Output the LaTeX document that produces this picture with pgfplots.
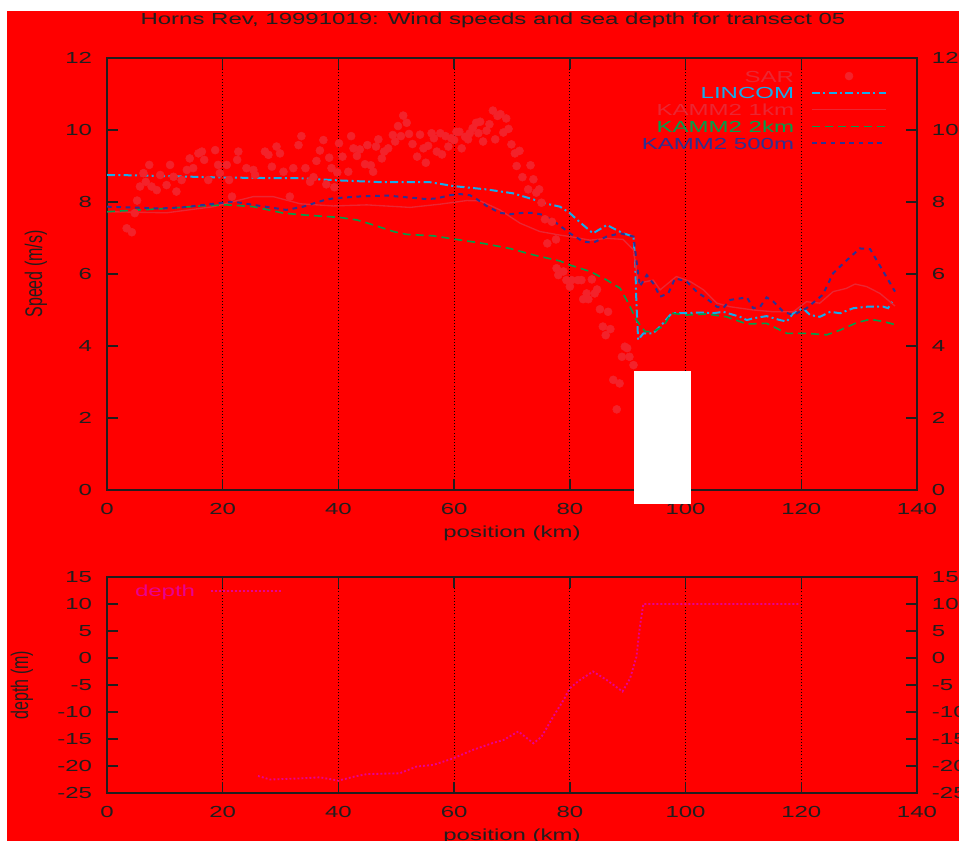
\documentclass[border=0pt]{standalone}
\usepackage{graphicx}
\usepackage{pgfplots}
\pgfplotsset{compat=1.18}
\usepackage{fontspec}
\setmainfont{Liberation Sans}[FakeStretch=1.5]
\newfontfamily\plainsans{Liberation Sans}
\definecolor{bgred}{RGB}{255,0,0}
\definecolor{axdark}{RGB}{34,30,30}
\definecolor{sarc}{RGB}{234,38,50}
\definecolor{dotc}{RGB}{243,34,42}
\definecolor{linc}{RGB}{20,172,236}
\definecolor{k2c}{RGB}{0,160,75}
\definecolor{k5c}{RGB}{46,49,146}
\definecolor{depc}{RGB}{232,0,145}

\pgfplotstableread{
x y
3.4 7.27
4.3 7.16
4.8 7.69
5.2 8.04
5.7 8.43
6.3 8.80
6.7 8.56
7.3 9.03
7.7 8.43
8.6 8.33
9.2 8.75
10.3 8.47
10.9 9.03
11.5 8.70
12.0 8.29
12.9 8.61
13.8 8.89
14.3 9.21
14.9 8.94
15.8 9.35
16.4 9.40
16.8 9.17
17.5 8.61
18.7 9.44
19.2 9.03
19.5 8.80
20.7 9.03
21.1 8.61
21.6 8.15
22.5 9.17
22.7 9.40
24.1 8.94
25.3 8.89
25.6 8.75
27.3 9.40
27.9 9.31
28.5 8.98
29.3 9.54
29.9 9.35
30.5 8.84
31.6 8.15
32.2 8.94
33.1 9.58
33.6 9.83
34.3 8.94
35.1 8.56
35.7 8.69
36.2 9.14
36.8 9.43
37.4 9.72
37.9 8.49
38.4 9.23
38.8 8.94
39.3 8.41
39.8 8.82
40.1 9.63
40.7 9.26
41.7 8.84
42.2 9.83
42.6 9.49
43.2 9.28
43.7 9.46
44.6 9.05
45.0 9.58
45.6 9.02
46.0 8.84
46.5 9.54
46.9 9.74
47.5 9.21
47.9 9.40
48.6 9.49
49.4 9.86
49.8 9.68
50.3 10.11
50.8 9.83
51.2 10.40
51.8 10.20
52.2 9.89
52.8 9.61
53.6 9.26
54.1 9.87
54.7 9.49
55.1 9.09
55.5 9.56
56.1 9.91
56.5 9.77
57.0 9.40
57.6 9.91
57.9 9.32
58.5 9.83
59.0 9.54
59.5 9.77
60.0 9.72
60.4 9.95
60.9 9.95
61.3 9.49
61.9 9.81
62.4 9.74
62.7 9.91
63.2 10.05
63.8 10.20
64.2 9.91
64.5 10.23
65.0 9.68
65.6 9.98
66.1 10.16
66.7 10.54
67.1 9.74
67.5 10.39
68.0 10.44
68.5 9.93
69.0 10.32
69.4 10.03
69.9 9.60
70.5 9.35
70.8 9.00
71.3 9.42
71.8 8.69
72.8 8.35
73.2 9.02
73.7 8.63
74.2 8.26
74.7 8.35
75.1 7.98
75.7 7.52
76.1 6.85
76.9 7.45
77.6 6.96
77.7 6.16
78.0 5.97
78.9 6.07
79.4 5.83
80.0 5.65
80.3 5.83
81.4 5.83
82.0 5.83
82.3 5.30
82.9 5.46
83.2 5.30
83.8 5.85
84.3 5.46
84.7 5.57
85.2 5.02
85.7 4.54
86.2 4.30
86.6 4.95
87.0 4.47
87.5 3.06
88.1 2.24
88.6 2.96
89.0 3.70
89.5 3.98
89.9 3.94
90.3 3.70
91.0 3.47
}\sardata

\pgfplotstableread{
x y
0 8.75
5 8.74
10 8.72
15 8.70
20 8.68
25 8.67
30 8.66
33.4 8.66
40 8.60
47.5 8.55
55.8 8.55
60.0 8.44
65.6 8.35
70.2 8.24
73.7 8.07
76.0 7.95
78.3 7.87
80.0 7.69
82.0 7.40
84.0 7.13
86.4 7.36
89.2 7.13
91.0 7.04
91.3 6.30
91.5 5.19
91.8 4.17
92.7 4.35
94.4 4.35
96.1 4.63
97.6 4.91
100.2 4.91
102.5 4.93
104.8 4.91
106.5 4.95
109.4 4.81
110.6 4.72
111.7 4.77
114.0 4.83
116.3 4.72
117.5 4.68
118.6 4.91
120.3 5.05
121.5 4.86
123.2 4.81
125.0 4.95
126.7 4.91
129.0 5.05
131.3 5.09
134.2 5.09
135.0 5.05
135.9 5.28
}\lincomdata

\pgfplotstableread{
x y
0 7.73
10.3 7.70
18.4 7.87
25.3 8.15
28.7 8.15
33.4 7.95
39.1 7.89
44.9 7.92
52.4 7.85
57.6 7.94
62.2 8.04
64.5 8.03
67.9 7.78
71.4 7.41
74.8 7.18
78.3 7.08
80.0 7.04
83.5 6.94
86.4 6.99
89.2 6.96
91.0 6.67
91.8 5.74
94.4 5.83
95.6 5.56
98.4 5.93
100.8 5.79
103.1 5.56
105.4 5.19
107.7 5.09
111.7 5.00
115.2 4.95
118.6 4.95
120.9 5.23
123.2 5.19
125.5 5.51
127.8 5.60
129.3 5.72
131.3 5.65
133.6 5.46
136.2 5.11
}\konedata

\pgfplotstableread{
x y
0 7.73
10.3 7.82
16.1 7.89
20.7 7.92
25.3 7.87
30.5 7.69
34.0 7.64
40.3 7.57
43.2 7.50
45.5 7.39
47.2 7.30
49.5 7.18
51.8 7.10
56.4 7.06
60.4 6.96
65.0 6.85
69.6 6.71
73.7 6.53
78.3 6.36
80.0 6.25
83.5 6.07
86.4 5.83
88.7 5.60
90.1 5.19
91.5 4.72
93.0 4.40
94.4 4.40
96.1 4.54
97.6 4.91
100.2 4.86
103.6 4.89
107.1 4.81
110.6 4.61
114.0 4.63
117.5 4.35
120.9 4.35
124.4 4.31
126.7 4.44
129.6 4.65
131.9 4.74
134.2 4.68
136.5 4.58
}\ktwodata

\pgfplotstableread{
x y
0 7.87
9.2 7.82
13.0 7.85
21.8 8.01
25.3 7.92
31.0 7.78
33.9 7.87
37.7 8.06
39.1 8.10
43.2 8.15
48.3 8.18
51.8 8.13
55.3 8.08
57.0 8.10
59.3 8.19
61.0 8.22
62.7 8.19
63.9 8.08
65.6 7.89
67.9 7.70
69.6 7.66
72.0 7.70
73.7 7.70
75.4 7.64
77.7 7.41
80.0 7.13
82.3 6.90
84.0 6.87
86.4 7.04
88.7 7.13
91.0 7.04
91.5 6.39
92.1 5.65
93.3 5.97
94.4 5.74
95.6 5.37
97.0 5.46
98.2 5.88
100.2 5.79
101.9 5.51
103.6 5.32
105.4 5.09
106.5 5.05
107.7 5.28
110.6 5.35
111.7 5.05
112.9 5.09
114.0 5.35
115.2 5.23
116.9 4.95
118.6 4.86
120.9 5.05
123.7 5.42
125.5 6.02
127.3 6.30
130.1 6.71
131.9 6.69
134.2 6.06
136.2 5.51
}\kfivedata

\pgfplotstableread{
x y
26.1 -21.85
28.2 -22.5
33.4 -22.3
36.8 -22.1
40.0 -22.7
42.6 -22.0
44.9 -21.5
50.6 -21.35
53.5 -20.1
56.4 -19.8
59.8 -18.6
63.3 -17.0
66.8 -15.7
68.5 -15.2
71.1 -13.6
73.7 -15.8
75.1 -14.6
77.1 -10.9
78.9 -7.8
80.0 -5.6
81.7 -4.1
84.0 -2.5
86.4 -4.1
89.1 -6.2
90.4 -3.8
91.5 0.2
92.1 5.8
92.7 10.0
119.8 10.0
}\depthdata

\pgfplotsset{
  baseax/.style={
    scale only axis, width=607.5pt,
    xmin=0, xmax=140, xtick={0,20,...,140},
    axis line style={axdark, line width=1.1pt},
    tick style={axdark, line width=1.1pt},
    major tick length=8pt,
    tick align=inside,
    tick label style={text=axdark},
    label style={text=axdark},
    /pgf/number format/assume math mode=true,
    xticklabel style={yshift=-5.8pt},
    yticklabel style={xshift=-7pt},
  },
  gridax/.style={
    xmajorgrids,
    grid style={black, line width=0.8pt, dash pattern=on 0.75pt off 1.6pt},
  },
  rightax/.style={
    scale only axis, width=607.5pt,
    xmin=0, xmax=140,
    hide x axis, axis y line*=right,
    axis line style={draw=none}, ytick style={draw=none},
    tick label style={text=axdark},
    /pgf/number format/assume math mode=true,
    yticklabel style={xshift=7pt},
  },
}

\begin{document}
\fontsize{12}{14}\selectfont
\begin{tikzpicture}
\path[use as bounding box] (0pt,0pt) rectangle (719.25pt,630.75pt);
\fill[white] (0pt,0pt) rectangle (719.25pt,630.75pt);
\fill[bgred] (5.25pt,0pt) rectangle (719.25pt,622.5pt);
\node[anchor=base, text=axdark, inner sep=0pt] at (369.75pt,612pt)
  {Horns Rev, 19991019: Wind speeds and sea depth for transect 05};

% ---------- top axis ----------
\begin{axis}[baseax, gridax,
  height=324pt, at={(80.25pt,263.25pt)}, anchor=south west,
  ymin=0, ymax=12, ytick={0,2,...,12},
  xlabel={position (km)},
  xlabel style={at={(axis description cs:0.5,-0.1111)}, anchor=base},
  ylabel={\plainsans\scalebox{1}[1.5]{Speed (m/s)}},
  ylabel style={at={(axis description cs:-0.0877,0.5)}, anchor=center},
  legend style={draw=none, fill=none, at={(0.963,0.972)}, anchor=north east,
    inner sep=0pt, outer sep=0pt,
    nodes={inner sep=0pt, text height=9pt, text depth=0pt},
    row sep=3.6pt, column sep=12.75pt},
  legend cell align=right, legend plot pos=right,
]
\addplot[only marks, mark=*, mark size=3pt, color=dotc, mark options={draw=dotc, fill=dotc},
  legend image code/.code={\path[draw=none, fill=none] (0pt,0pt) -- (55.5pt,0pt); \fill[dotc] (27.75pt,0pt) circle (3pt);}]
  table[x=x,y=y] {\sardata};
\addlegendentry{\textcolor{sarc}{SAR}}
\addplot[color=linc, line width=1.5pt, dash pattern=on 6pt off 2.5pt on 1.5pt off 2.5pt, no marks,
  legend image code/.code={\draw[linc, line width=1.5pt, dash pattern=on 6pt off 2.5pt on 1.5pt off 2.5pt] (0pt,0pt) -- (55.5pt,0pt);}]
  table[x=x,y=y] {\lincomdata};
\addlegendentry{\textcolor{linc}{LINCOM}}
\addplot[color=sarc, line width=1pt, no marks,
  legend image code/.code={\draw[sarc, line width=1pt] (0pt,0pt) -- (55.5pt,0pt);}]
  table[x=x,y=y] {\konedata};
\addlegendentry{\textcolor{sarc}{KAMM2 1km}}
\addplot[color=k2c, line width=1.2pt, dash pattern=on 6pt off 3.75pt, no marks,
  legend image code/.code={\draw[k2c, line width=1.2pt, dash pattern=on 6pt off 3.75pt] (0pt,0pt) -- (55.5pt,0pt);}]
  table[x=x,y=y] {\ktwodata};
\addlegendentry{\textcolor{k2c}{KAMM2 2km}}
\addplot[color=k5c, line width=1.5pt, dash pattern=on 3.5pt off 3.5pt, no marks,
  legend image code/.code={\draw[k5c, line width=1.5pt, dash pattern=on 3.5pt off 3.5pt] (0pt,0pt) -- (55.5pt,0pt);}]
  table[x=x,y=y] {\kfivedata};
\addlegendentry{\textcolor{k5c}{KAMM2 500m}}
\end{axis}
\begin{axis}[rightax, height=324pt, at={(80.25pt,263.25pt)}, anchor=south west,
  ymin=0, ymax=12, ytick={0,2,...,12}]
\end{axis}

% ---------- bottom axis ----------
\begin{axis}[baseax, gridax,
  height=162pt, at={(80.25pt,36pt)}, anchor=south west,
  ymin=-25, ymax=15, ytick={-25,-20,...,15},
  xlabel={position (km)},
  xlabel style={at={(axis description cs:0.5,-0.2222)}, anchor=base},
  ylabel={\plainsans\scalebox{1}[1.5]{depth (m)}},
  ylabel style={at={(axis description cs:-0.105,0.5)}, anchor=center},
  legend style={draw=none, fill=none, at={(0.0346,0.963)}, anchor=north west,
    inner sep=0pt, outer sep=0pt,
    nodes={inner sep=0pt, text height=9pt, text depth=0pt},
    column sep=11.25pt},
  legend cell align=left, legend plot pos=right,
]
\addplot[color=depc, line width=1.4pt, dash pattern=on 1.4pt off 1.6pt, no marks,
  legend image code/.code={\draw[depc, line width=1.4pt, dash pattern=on 1.4pt off 1.6pt] (0pt,0pt) -- (53pt,0pt);}]
  table[x=x,y=y] {\depthdata};
\addlegendentry{\textcolor{depc}{depth}}
\end{axis}
\begin{axis}[rightax, height=162pt, at={(80.25pt,36pt)}, anchor=south west,
  ymin=-25, ymax=15, ytick={-25,-20,...,15}]
\end{axis}

% white occluding block present in the reference image
\fill[white] (475.5pt,252.75pt) rectangle (518.25pt,352.5pt);
\end{tikzpicture}
\end{document}
